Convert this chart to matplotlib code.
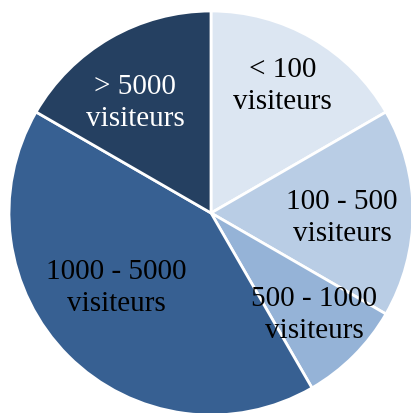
import matplotlib
matplotlib.use("Agg")
import matplotlib.pyplot as plt
import numpy as np

categories = ["< 100\nvisiteurs", "100 - 500\nvisiteurs", "500 - 1000\nvisiteurs",
              "1000 - 5000\nvisiteurs", "> 5000\nvisiteurs"]
shares = [2, 2, 1, 5, 2]
colors = ["#dce6f2", "#b9cde5", "#95b3d7", "#376092", "#254061"]
text_colors = ["black", "black", "black", "black", "white"]
# label placement: distance from centre and angle shift from mid-wedge
label_radius = [0.72, 0.65, 0.72, 0.60, 0.66]
label_shift = [0.5, -2.2, 0.3, -6.7, 4.6]

fig = plt.figure(figsize=(4.11, 4.13), dpi=100)
ax = fig.add_axes([0, 0, 1, 1])

wedges, _ = ax.pie(shares, colors=colors, startangle=90, counterclock=False,
                   radius=1.0, wedgeprops=dict(edgecolor="white", linewidth=2))

for w, lab, tc, r, s in zip(wedges, categories, text_colors, label_radius, label_shift):
    ang = np.deg2rad((w.theta1 + w.theta2) / 2 + s)
    ax.text(r * np.cos(ang), r * np.sin(ang), lab, ha="center", va="center",
            color=tc, fontsize=21, family="Liberation Serif", linespacing=1.3)

ax.set_xlim(-211 / 202, 200 / 202)
ax.set_ylim(-200 / 202, 213 / 202)
ax.set_aspect("auto")
ax.axis("off")

fig.savefig("out.png", dpi=100)
